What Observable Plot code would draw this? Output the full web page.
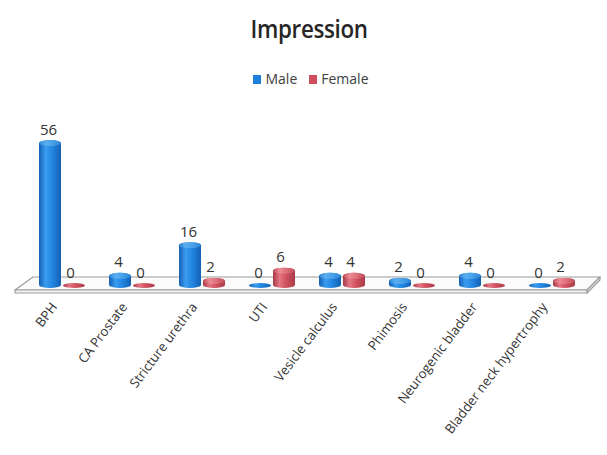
<!DOCTYPE html>
<html>
<head>
<meta charset="utf-8">
<script src="https://cdn.jsdelivr.net/npm/d3@7"></script>
<script src="https://cdn.jsdelivr.net/npm/@observablehq/plot@0.6"></script>
<style>
  body { margin: 0; background: #fff; font-family: "Open Sans", sans-serif; }
  #wrap { position: relative; width: 607px; height: 455px; overflow: hidden; }
  #title { position: absolute; top: 10px; left: 0; width: 618px; text-align: center; }
  #title span { display: inline-block; font-size: 26px; font-weight: 600; color: #262626;
                letter-spacing: -0.4px; transform: scaleX(0.86); }
  #legend { position: absolute; top: 69px; left: 0; width: 622px; text-align: center;
            font-size: 14px; color: #404040; }
  #legend span.item { margin: 0 6px; }
  #legend span.sw { display: inline-block; width: 8px; height: 9px; margin-right: 4px; }
  #chart { position: absolute; top: 0; left: 0; }
</style>
</head>
<body>
<div id="wrap">
  <div id="title"><span>Impression</span></div>
  <div id="legend"></div>
  <div id="chart"></div>
</div>
<script>
// Diagnoses and counts per sex
const categories = ["BPH", "CA Prostate", "Stricture urethra", "UTI", "Vesicle calculus",
                    "Phimosis", "Neurogenic bladder", "Bladder neck hypertrophy"];
const male   = [56, 4, 16, 0, 4, 2, 4, 0];
const female = [0, 0, 2, 6, 4, 0, 0, 2];
const series = ["Male", "Female"];
const seriesColors = ["#1f80dc", "#cf4f5d"];

const rows = categories.flatMap((c, i) => [
  {category: c, sex: series[0], value: male[i]},
  {category: c, sex: series[1], value: female[i]}
]);

// Legend
const legend = document.getElementById("legend");
series.forEach((s, i) => {
  const item = document.createElement("span");
  item.className = "item";
  item.innerHTML = `<span class="sw" style="background:${seriesColors[i]}"></span>${s}`;
  legend.appendChild(item);
});

// Gradients giving the bars a cylindrical shading
function gradients() {
  const defs = d3.create("svg:defs");
  const stops = {
    gMale:   ["#1560b4", "#3a9cee", "#2186e0", "#1461b3"],
    gFemale: ["#a53848", "#e47683", "#d0515f", "#a93c4a"],
    cMale:   ["#2d86d6", "#5aaef0", "#4aa2ea", "#2d86d6"],
    cFemale: ["#c24d5b", "#ec8a95", "#e0707c", "#c24d5b"]
  };
  for (const [id, cols] of Object.entries(stops)) {
    const g = defs.append("linearGradient").attr("id", id).attr("x1", 0).attr("x2", 1).attr("y1", 0).attr("y2", 0);
    [0, 0.3, 0.6, 1].forEach((o, k) => g.append("stop").attr("offset", o).attr("stop-color", cols[k]));
  }
  return defs.node();
}

// Floor slab under the bars
function floor(index, scales, values, dims) {
  const L = dims.marginLeft, R = dims.width - dims.marginRight, y0 = scales.y(0);
  const g = d3.create("svg:g").attr("stroke", "#9c9c9c").attr("stroke-width", 1.2).attr("stroke-linejoin", "round");
  g.append("path").attr("fill", "#fbfbfb")
    .attr("d", `M${L + 17},${y0 - 6}L${R + 2},${y0 - 6}L${R - 11},${y0 + 7}L${L - 1},${y0 + 7}Z`);
  g.append("path").attr("fill", "#f2f2f2")
    .attr("d", `M${L - 1},${y0 + 7}L${R - 11},${y0 + 7}L${R - 11},${y0 + 10}L${L - 1},${y0 + 10}Z`);
  g.append("path").attr("fill", "#ececec")
    .attr("d", `M${R - 11},${y0 + 7}L${R + 2},${y0 - 6}L${R + 2},${y0 - 3}L${R - 11},${y0 + 10}Z`);
  return g.node();
}

const barW = 22;
const half = (s) => s === "Male" ? {insetRight: 24} : {insetLeft: 24};

const marks = [gradients, floor];
series.forEach((s, i) => {
  const data = rows.filter(d => d.sex === s);
  // cylinder body
  marks.push(Plot.barY(data, {
    x: "category", y: "value",
    fill: `url(#g${s})`, rx: barW / 2, ry: 3,
    insetBottom: -5, ...half(s)
  }));
  // top cap
  marks.push(Plot.barY(data.filter(d => d.value > 0), {
    x: "category", y1: "value", y2: "value",
    fill: `url(#c${s})`, rx: barW / 2, ry: 3,
    insetTop: 0, insetBottom: -6, ...half(s)
  }));
  // value labels
  marks.push(Plot.text(data, {
    x: "category", y: "value", text: d => String(d.value),
    dx: i === 0 ? -14 : 8, dy: -6, lineAnchor: "bottom",
    fontSize: 15, fill: "#333", fontFamily: "Open Sans"
  }));
});
marks.push(Plot.axisX({
  tickRotate: -53, tickSize: 0, tickPadding: 21, dx: -8, label: null,
  fontSize: 13.2, fill: "#333", fontFamily: "Open Sans"
}));

const chart = Plot.plot({
  width: 607,
  height: 455,
  marginLeft: 16,
  marginRight: 9,
  marginTop: 140,
  marginBottom: 172,
  style: {background: "transparent", overflow: "visible"},
  x: {domain: categories, paddingInner: 0.35, paddingOuter: 0.3, axis: null},
  y: {domain: [0, 56], axis: null},
  marks
});
document.getElementById("chart").appendChild(chart);
</script>
</body>
</html>
